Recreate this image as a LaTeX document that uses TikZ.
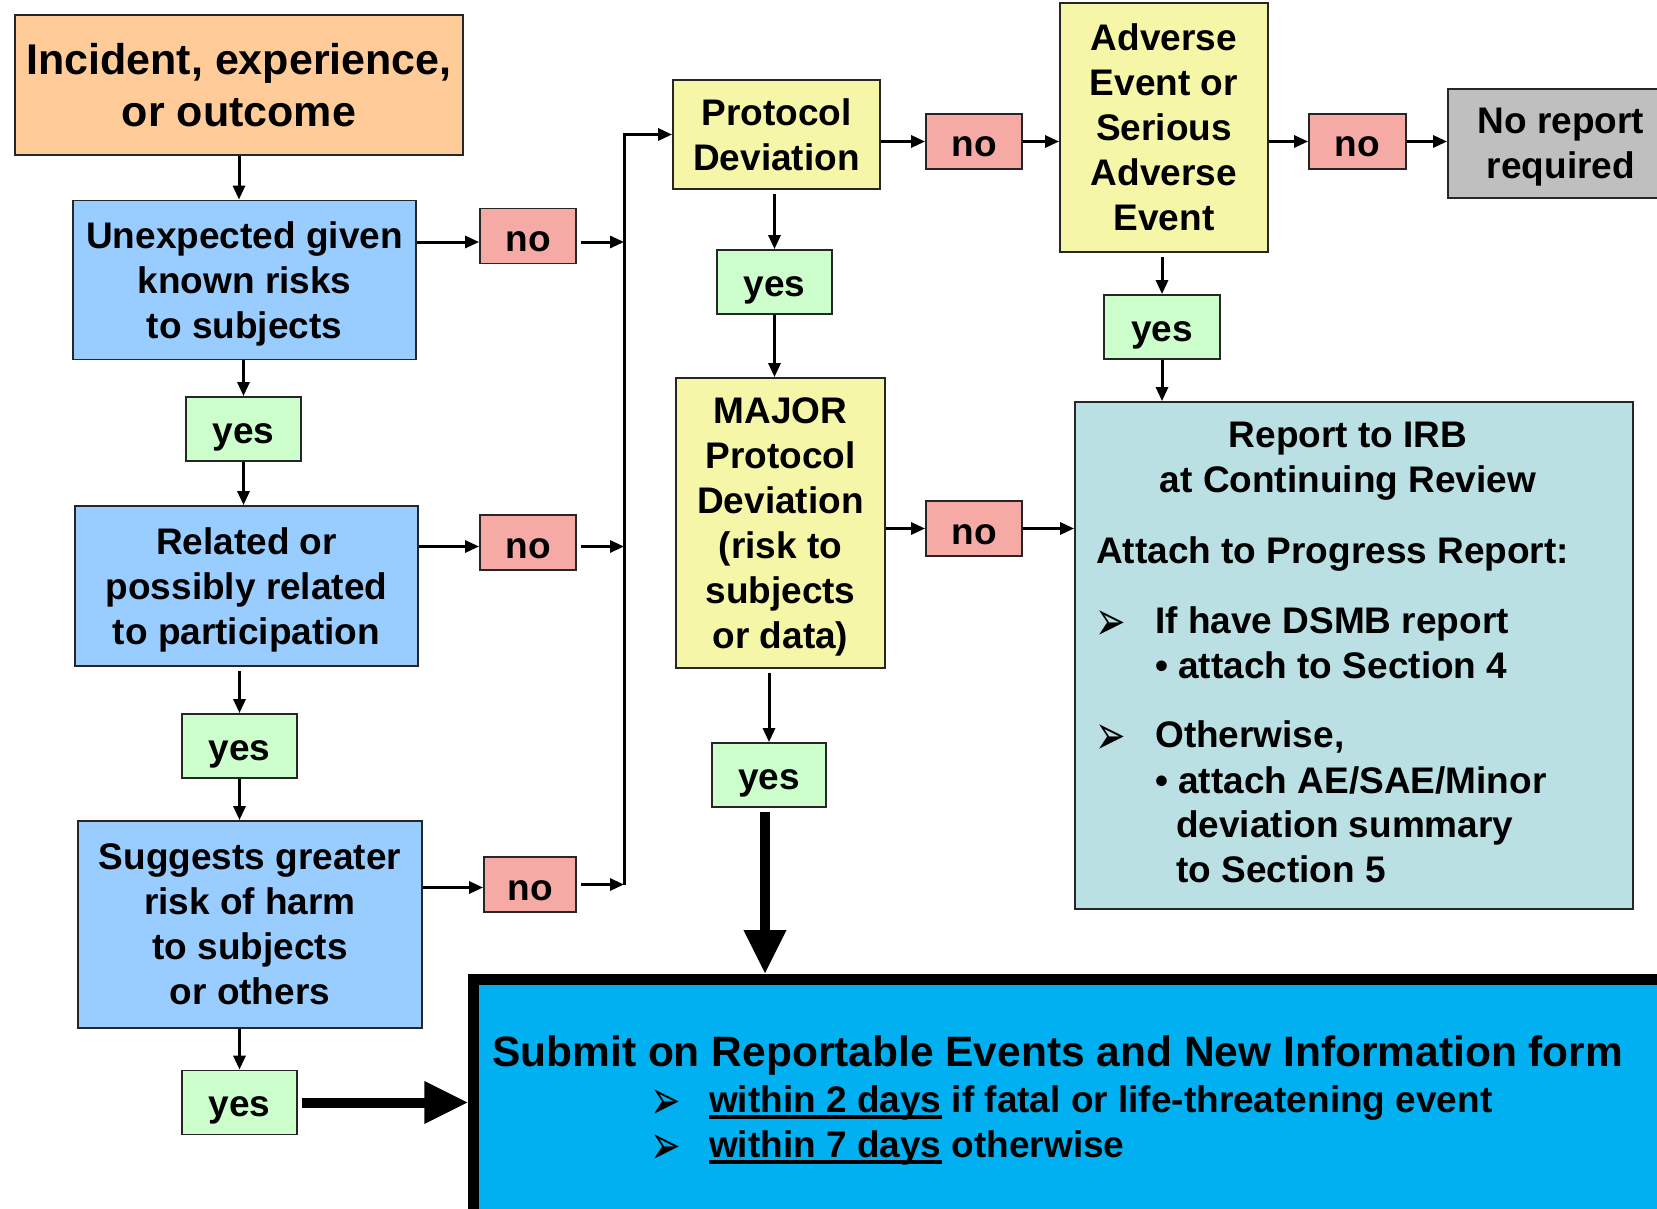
\documentclass[tikz,border=0pt]{standalone}
\usepackage{fontspec}
\usepackage{graphicx}
\setmainfont{Liberation Sans}
\newfontfamily\dingfont{DejaVu Sans}
\usetikzlibrary{arrows.meta}

\definecolor{incorange}{HTML}{FFCC99}
\definecolor{askblue}{HTML}{99CCFF}
\definecolor{yesgreen}{HTML}{CCFFCC}
\definecolor{nopink}{HTML}{F5AAA5}
\definecolor{devyellow}{HTML}{F5F6A8}
\definecolor{nogray}{HTML}{BFBFBF}
\definecolor{irbteal}{HTML}{BAE0E3}
\definecolor{submitcyan}{HTML}{00B0F0}

\newcommand{\arrowbullet}{\raisebox{-7pt}[0pt][0pt]{\scalebox{1.3}[2.0]{\dingfont\fontsize{28}{28}\selectfont ➢}}}
\newcommand{\thickul}[1]{\setbox0=\hbox{#1}\rlap{\vrule height -3pt depth 7pt width \wd0}\box0\relax}

\begin{document}
\begin{tikzpicture}[
    x=1pt, y=-1pt,
    >={Triangle[length=14pt,width=12pt]},
    box/.style={draw=black!85, line width=1.8pt, inner sep=0pt, align=center, text depth=0pt,
                font=\bfseries\fontsize{37}{45}\selectfont},
    ask/.style={box, fill=askblue, minimum width=343pt},
    dev/.style={box, fill=devyellow},
    yesbox/.style={box, fill=yesgreen, minimum width=115pt, minimum height=64pt, text height=28pt},
    nobox/.style={box, fill=nopink, minimum width=96pt, minimum height=55pt, text height=31pt},
    txt/.style={inner sep=0pt, font=\bfseries\fontsize{37}{45}\selectfont},
    link/.style={line width=3pt},
    lift/.style={shorten <=4pt},
    heavy/.style={line width=10pt, -{Triangle[length=44pt,width=40pt]}}
]
\useasboundingbox (0,0) rectangle (1657,1209);
\clip (0,0) rectangle (1657,1209);

% --- Left column: screening questions ---
\node[box, fill=incorange, minimum width=448pt, minimum height=140pt,
      font=\bfseries\fontsize{43}{52}\selectfont] (inc) at (239,85) {Incident, experience,\\or outcome};
\node[ask, minimum height=159pt] (unexp) at (244.5,280) {Unexpected given\\known risks\\to subjects};
\node[yesbox] (yes1) at (243.5,429) {yes};
\node[ask, minimum height=160pt] (rel) at (246.5,586) {Related or\\possibly related\\to participation};
\node[yesbox] (yes2) at (239.5,746) {yes};
\node[ask, minimum width=344pt, minimum height=207pt] (sugg) at (250,924.5) {Suggests greater\\risk of harm\\to subjects\\or others};
\node[yesbox] (yes3) at (239.5,1102.5) {yes};

\node[nobox] (no1) at (528,236) {no};
\node[nobox] (no2) at (528,542.5) {no};
\node[nobox, minimum width=92pt] (no3) at (530,884.5) {no};
\coordinate (bus) at (624,0);

% --- Middle column: protocol deviation ---
\node[dev, minimum width=207pt, minimum height=109pt] (pd) at (776.5,134.5) {Protocol\\Deviation};
\node[nobox] (no4) at (974,141.5) {no};
\node[yesbox] (yes4) at (774.5,282) {yes};
\node[dev, minimum width=209pt, minimum height=290pt] (major) at (780.5,523) {MAJOR\\Protocol\\Deviation\\(risk to\\subjects\\or data)};
\node[nobox] (no6) at (974,528.5) {no};
\node[yesbox, minimum width=114pt] (yes6) at (769,775) {yes};

% --- Right column: adverse events ---
\node[dev, minimum width=208pt, minimum height=249pt] (ae) at (1164,127.5) {Adverse\\Event or\\Serious\\Adverse\\Event};
\node[nobox, minimum width=97pt] (no5) at (1357.5,141.5) {no};
\node[box, fill=nogray, minimum width=226pt, minimum height=109pt] (norep) at (1561,143.5) {No report\\required};
\node[yesbox, minimum width=116pt] (yes5) at (1162,327) {yes};

% --- Report to IRB ---
\node[box, fill=irbteal, minimum width=558pt, minimum height=507pt] (irb) at (1354,655.5) {};
\node[txt, align=center, text depth=0pt] (irbhead) at (1348,457) {Report to IRB\\at Continuing Review};
\node[txt, anchor=base west] (irbattach) at (1096,563) {Attach to Progress Report:};
\node[txt, anchor=base west] (irbptA) at (1095,633) {\arrowbullet};
\node[txt, anchor=base west] (irbA) at (1155,633) {If have DSMB report};
\node[txt, anchor=base west] (irbAsub) at (1155,678) {\textbullet\ attach to Section 4};
\node[txt, anchor=base west] (irbptB) at (1095,747) {\arrowbullet};
\node[txt, anchor=base west] (irbB) at (1155,747) {Otherwise,};
\node[txt, anchor=base west] (irbBsub) at (1155,793) {\textbullet\ attach AE/SAE/Minor};
\node[txt, anchor=base west] (irbBsubb) at (1176,837) {deviation summary};
\node[txt, anchor=base west] (irbBsubc) at (1176,882) {to Section 5};

% --- Submit box ---
\node[draw=black, line width=11pt, fill=submitcyan, inner sep=0pt,
      minimum width=1206pt, minimum height=245pt] (submit) at (1076.75,1102) {};
\node[txt, anchor=base west, font=\bfseries\fontsize{42.5}{52}\selectfont] (subhead) at (492,1066)
     {Submit on Reportable Events and New Information form};
\node[txt, anchor=base west] (subptA) at (650,1112) {\arrowbullet};
\node[txt, anchor=base west] (subA) at (709,1112) {\thickul{within 2 days} if fatal or life-threatening event};
\node[txt, anchor=base west] (subptB) at (650,1157) {\arrowbullet};
\node[txt, anchor=base west] (subB) at (709,1157) {\thickul{within 7 days} otherwise};

% --- Connectors ---
\draw[->, link] (inc.south) -- (inc.south |- unexp.north);
\draw[->, link] (yes1.north |- unexp.south) -- (yes1.north);
\draw[->, link] (yes1.south) -- (yes1.south |- rel.north);
\draw[->, link, lift] (yes2.north |- rel.south) -- (yes2.north);
\draw[->, link] (yes2.south) -- (yes2.south |- sugg.north);
\draw[->, link] (yes3.north |- sugg.south) -- (yes3.north);

\draw[->, link] ([yshift=-6pt]unexp.east |- no1) -- ([yshift=-6pt]no1.west);
\draw[->, link] ([yshift=-4pt]rel.east |- no2) -- ([yshift=-4pt]no2.west);
\draw[->, link] ([yshift=-3pt]sugg.east |- no3) -- ([yshift=-3pt]no3.west);
\draw[->, link, lift] ([yshift=-6pt]no1.east) -- ([yshift=-6pt]bus |- no1);
\draw[->, link, lift] ([yshift=-4pt]no2.east) -- ([yshift=-4pt]bus |- no2);
\draw[->, link, lift] (no3.east) -- (bus |- no3);
\draw[->, link] (bus |- no3) -- (bus |- pd) -- (pd.west);

\draw[->, link] (pd.east |- no4) -- (no4.west);
\draw[->, link] (no4.east) -- (ae.west |- no4);
\draw[->, link] (ae.east |- no5) -- (no5.west);
\draw[->, link] (no5.east) -- (norep.west |- no5);

\draw[->, link, lift] (yes4.north |- pd.south) -- (yes4.north);
\draw[->, link] (yes4.south) -- (yes4.south |- major.north);
\draw[->, link, lift] (yes6.north |- major.south) -- (yes6.north);
\draw[->, link] (major.east |- no6) -- (no6.west);
\draw[->, link] (no6.east) -- (irb.west |- no6);

\draw[->, link, lift] (yes5.north |- ae.south) -- (yes5.north);
\draw[->, link] (yes5.south) -- (yes5.south |- irb.north);

\draw[heavy, lift] ([xshift=-4pt]yes6.south) -- ([xshift=-4pt]yes6.south |- submit.north);
\draw[heavy, lift] (yes3.east) -- (submit.west |- yes3);

\end{tikzpicture}
\end{document}
